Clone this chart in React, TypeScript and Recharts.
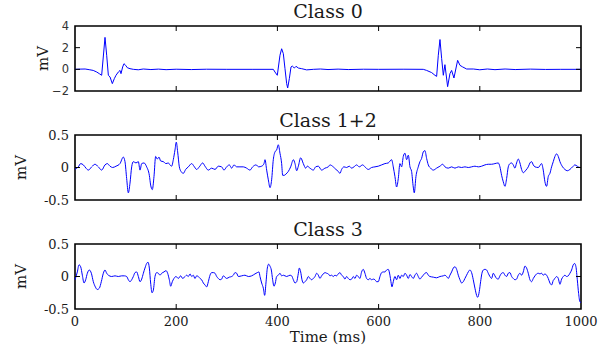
import React from 'react';
import { LineChart, Line, XAxis, YAxis, ReferenceArea } from 'recharts';

// ---------- data (time in ms, amplitude in mV) ----------
const timeTicks = [0, 200, 400, 600, 800, 1000];
const class0Ticks = [-2, 0, 2, 4];
const smallTicks = [-0.5, 0, 0.5];
const titles = ['Class 0', 'Class 1+2', 'Class 3'];

const class0: [number, number][] = [
  [0, 0], [10, 0.02], [20, 0.03], [28, -0.03], [36, -0.1], [43, -0.25], [48, -0.4], [52.7, -0.55],
  [59.3, 2.95], [62.6, 1.3], [65.9, -0.55], [69.2, -0.7], [73.8, -1.32], [77.7, -0.86], [81, -0.55],
  [85.6, -0.25], [89, -0.1], [90.9, -0.4], [94.2, 0.22], [96.8, 0.52], [100.1, 0.37], [103.4, 0.15],
  [108.7, 0.06], [115.3, 0], [125, -0.04], [135, 0.03], [150, -0.02], [165, 0.02], [180, -0.03],
  [200, 0.01], [230, -0.02], [260, 0.01], [300, 0], [350, 0], [391.9, 0], [395.2, -0.25], [399.8, -0.55],
  [405.1, 1.3], [408.4, 1.9], [411.7, 1.45], [415, 0.06], [418.3, -1.32], [420.3, -1.72], [423.6, -0.86],
  [426.9, 0.22], [429.5, 0.3], [433.5, 0.12], [436.8, 0.28], [441.4, 0.12], [448, 0.06], [457.8, -0.05],
  [471, 0], [485, 0.03], [500, -0.02], [520, 0.02], [540, -0.02], [570, 0.01], [600, 0], [650, 0.01],
  [688.3, 0], [694.9, -0.1], [704.8, -0.3], [711.4, -0.55], [714.7, -0.65], [718, 1.3], [721.3, 2.75],
  [724.6, 1.0], [727.9, -0.55], [731.1, 0.43], [736.4, -1.6], [741, -0.4], [744.3, -0.1], [748.9, -0.8],
  [756.2, 0.83], [760.8, 0.37], [766.1, 0.22], [774, 0.03], [787.2, 0.03], [800, -0.04], [815, 0.03],
  [830, -0.03], [850, 0.03], [870, -0.02], [900, 0.02], [930, -0.01], [960, 0], [1000, 0],
];

const class12: [number, number][] = [
  [0, -0.03], [6.6, 0.01], [11.2, 0.06], [16.5, 0.04], [21.7, -0.01], [26.4, -0.04], [33, 0.01], [39.5, 0.05],
  [46.1, 0.01], [52.7, -0.04], [59.3, 0.04], [63.9, 0.06], [69.2, 0.02], [74.4, 0], [81, 0.02], [88.9, 0.06],
  [95.5, 0.16], [98.8, 0.09], [102.1, -0.17], [105.4, -0.39], [108.7, -0.24], [112, 0.01], [115.3, 0.09],
  [120.5, 0.07], [125.2, 0.09], [128.5, -0.04], [131.8, 0.06], [136.4, 0.07], [141.6, 0.01], [146.9, -0.12],
  [149.5, -0.27], [152.8, -0.34], [156.1, -0.14], [159.4, 0.17], [162.7, 0.13], [166, 0.16], [169.3, 0.1],
  [174.6, 0.09], [179.8, 0.06], [184.4, 0.07], [187.7, 0.04], [191, 0.02], [194.3, 0.12], [197.6, 0.27],
  [200.2, 0.39], [202.9, 0.24], [206.2, 0.01], [209.5, -0.06], [214.1, -0.09], [218.7, -0.03], [224, 0.01],
  [230.6, 0.06], [235.1, 0.02], [240.4, -0.03], [245.7, 0.01], [252.3, 0.07], [256.9, 0.02], [263.5, -0.04],
  [270.1, -0.01], [276.7, -0.03], [283.2, 0.02], [289.8, 0.01], [294.4, -0.04], [299.7, 0.01], [305, 0.04],
  [309.6, -0.01], [314.2, 0.04], [319.5, 0.01], [326, 0.01], [332.6, 0.01], [339.2, -0.01], [345.8, -0.04],
  [351.1, 0.01], [357.7, 0.04], [363, 0.01], [368.9, 0.02], [373.5, 0.06], [375.5, 0.12], [378.8, -0.04],
  [382.1, -0.19], [385.4, -0.31], [388.6, -0.19], [391.9, 0.12], [395.2, 0.24], [398.5, 0.27], [401.8, 0.35],
  [405.1, 0.22], [408.4, 0.06], [410.4, -0.12], [413.7, -0.12], [417, -0.1], [421.6, -0.06], [426.2, 0.01],
  [431.5, 0.12], [434.8, 0.06], [438.1, -0.05], [441.4, 0.02], [446, 0.15], [451.2, 0.06], [455.8, -0.01],
  [459.1, 0.02], [464.4, -0.01], [471, -0.04], [475.6, 0.01], [480.9, 0.02], [487.4, -0.04], [494, -0.01],
  [500.6, 0.01], [503.9, 0.04], [510.4, 0.01], [515.7, -0.03], [520.3, -0.06], [523.6, -0.09], [526.9, -0.03],
  [531.5, 0.01], [536.8, 0], [542.1, 0.02], [546.7, -0.01], [551.3, 0.01], [556.6, 0.04], [561.8, 0.01],
  [568.4, 0.04], [573, 0.01], [579.6, -0.03], [586.2, 0], [592.8, 0.01], [599.4, 0.02], [606, 0.04],
  [612.5, 0.06], [619.1, 0.07], [625.7, 0.12], [629, 0.01], [632.3, -0.14], [635.6, -0.3], [638.9, -0.17],
  [642.2, 0.06], [645.5, 0.01], [648.8, 0.17], [652.1, 0.22], [655.4, 0.12], [658.7, 0.19], [662, 0.01],
  [665.2, -0.06], [668.5, -0.3], [670.5, -0.39], [673.8, -0.14], [678.4, 0.01], [681.7, 0.09], [685, 0.14],
  [688.3, 0.24], [691.6, 0.26], [694.9, 0.14], [698.2, 0.04], [702.8, -0.01], [708.1, -0.04], [714.6, -0.01],
  [721.2, 0.02], [726.5, 0.05], [731.1, 0.01], [737.7, -0.01], [744.3, 0.01], [750.9, -0.01], [757.5, 0.01],
  [764, 0], [770.6, 0.01], [777.2, 0], [783.8, 0.01], [790.4, 0.02], [797, 0.01], [803.6, 0.02], [810.2, 0.04],
  [816.7, 0.05], [823.3, 0.05], [829.9, 0.06], [836.5, 0.07], [839.8, 0.01], [843.1, -0.12], [846.4, -0.22],
  [849.7, -0.29], [853, -0.17], [856.3, 0.01], [859.6, 0.06], [862.9, 0.07], [866.1, 0.04], [869.4, -0.01],
  [872.7, 0.07], [876, 0.13], [879.3, 0.07], [882.6, -0.03], [885.9, -0.08], [891.2, -0.04], [895.8, 0.01],
  [899.1, 0.07], [902.4, 0.09], [905.7, 0.04], [909, 0.01], [915.6, 0], [922.1, 0.06], [925.4, -0.04],
  [928.7, -0.22], [932, -0.29], [935.3, -0.14], [938.6, -0.09], [941.9, 0.01], [945.2, 0.09], [948.5, 0.17],
  [951.8, 0.21], [955.1, 0.17], [958.4, 0.09], [963.6, 0.01], [968.2, -0.03], [972.9, -0.05], [978.1, -0.03],
  [983.4, 0.01], [988, 0.04], [992.6, 0.02], [997.9, 0], [1000, 0],
];

const class3: [number, number][] = [
  [0, -0.05], [4.6, 0.07], [7.9, 0.18], [11.2, 0.15], [14.5, 0.02], [17.8, -0.1], [21.1, -0.05], [24.4, 0.05],
  [28.3, 0.1], [32.3, 0.05], [36.2, -0.08], [40.2, -0.16], [44.1, -0.2], [48.1, -0.18], [52, -0.08], [56, 0.05],
  [59.3, 0.1], [62.6, 0.05], [65.9, 0.02], [72.5, 0], [79.1, 0.01], [85.6, 0], [92.2, 0.01], [97.5, 0.01],
  [102.1, 0], [105.4, -0.05], [108.7, -0.08], [112, -0.05], [115.3, 0], [118.6, 0.06], [121.9, 0.07],
  [125.2, 0], [128.5, -0.08], [131.8, -0.04], [135.1, 0.05], [138.3, 0.13], [141.6, 0.2], [144.3, 0.22],
  [146.9, 0.13], [149.5, -0.1], [152.2, -0.25], [154.8, -0.21], [158.1, 0], [161.4, 0.06], [164.7, 0.05],
  [168, 0.02], [171.3, 0.05], [175.9, 0.07], [179.8, 0.09], [183.1, 0.05], [186.4, -0.05], [189.1, -0.15],
  [192.3, -0.08], [195.6, -0.03], [199.6, 0], [204.2, -0.03], [208.8, 0.01], [212.8, -0.03], [217.4, 0],
  [220.7, 0.02], [224, 0], [227.3, 0.04], [230.6, 0], [233.8, 0.02], [237.1, -0.03], [240.4, 0.01], [243.7, 0],
  [247, -0.03], [250.3, -0.05], [253.6, -0.1], [256.9, -0.13], [260.2, -0.16], [263.5, -0.08], [266.8, 0.02],
  [270.1, 0.06], [273.4, 0.06], [276.7, 0.05], [280, 0], [283.2, -0.03], [286.5, -0.05], [289.8, -0.04],
  [293.1, 0.01], [296.4, -0.01], [299.7, -0.03], [305, -0.01], [309.6, 0], [312.9, 0.02], [316.2, 0.06],
  [319.5, 0.05], [322.8, 0], [329.4, 0.01], [335.9, 0.02], [342.5, 0], [349.1, 0.01], [355.7, 0.04],
  [360.3, 0.06], [363.6, 0.07], [365.6, 0], [368.9, -0.1], [372.2, -0.18], [374.8, -0.29], [377.4, -0.1],
  [380.1, 0.13], [382.7, 0.19], [385.3, 0.16], [388, 0.1], [390.6, -0.05], [393.2, -0.15], [395.9, -0.1],
  [398.5, 0], [401.8, 0.02], [405.1, 0.05], [408.4, 0.01], [411.7, 0.02], [418.3, 0], [424.9, 0.02],
  [428.2, 0.01], [431.5, -0.05], [434.8, -0.1], [438.1, -0.08], [441.4, 0.05], [443.3, 0.13], [446, 0.07],
  [448.6, -0.05], [451.2, -0.1], [454.5, -0.08], [457.8, -0.05], [461.1, 0], [464.4, -0.03], [467.7, -0.05],
  [471, -0.03], [474.3, 0], [477.6, 0.05], [480.9, 0.02], [484.1, -0.03], [487.4, 0.01], [490.7, 0.04],
  [494, 0.06], [497.3, 0.05], [500.6, 0.04], [503.9, 0.01], [507.2, 0.02], [510.4, 0], [513.7, 0.02],
  [517, 0.01], [520.3, 0.04], [523.6, 0.06], [526.9, 0.02], [530.2, 0], [533.5, -0.04], [536.8, 0],
  [540.1, -0.03], [543.4, -0.05], [546.7, -0.04], [550, 0], [553.3, -0.03], [556.6, 0.02], [559.8, 0],
  [563.1, -0.03], [566.4, 0.07], [569.7, 0.11], [573, 0.05], [576.3, -0.03], [579.6, -0.05], [582.9, -0.03],
  [586.2, -0.05], [589.5, -0.04], [592.8, -0.05], [596.1, -0.08], [599.4, -0.08], [602.7, 0], [606, 0.06],
  [609.3, 0.07], [612.5, 0.07], [615.8, 0.1], [619.1, 0.11], [622.4, 0.02], [624.4, -0.08], [626.4, -0.16],
  [629, -0.08], [632.3, 0], [635.6, -0.05], [638.9, 0.02], [642.2, -0.03], [645.5, 0.02], [648.8, 0],
  [652.1, 0.05], [655.4, 0.02], [658.7, -0.03], [662, 0.03], [665.2, 0], [668.5, -0.03], [671.8, 0.02],
  [675.1, 0.05], [678.4, 0], [681.7, -0.04], [685, -0.01], [688.3, 0.02], [691.6, 0.05], [694.9, 0.06],
  [698.2, 0.02], [701.5, 0], [708.1, -0.01], [714.6, -0.02], [721.2, 0], [727.8, 0.01], [731.1, 0.02],
  [734.4, 0], [737.7, -0.03], [741, 0.02], [744.3, 0.07], [747.6, 0.13], [750.9, 0.15], [754.2, 0.11],
  [757.5, 0.02], [760.8, -0.05], [764.1, -0.1], [767.3, -0.08], [770.6, -0.03], [773.9, 0.02], [777.2, 0.07],
  [780.5, 0.1], [783.8, 0.06], [787.1, -0.05], [790.4, -0.18], [793.7, -0.29], [795.7, -0.32], [799, -0.23],
  [801.6, -0.08], [804.2, 0.05], [806.9, 0.1], [810.2, 0.11], [813.5, 0.1], [816.7, 0.05], [820, 0],
  [823.3, -0.03], [826.6, 0.05], [829.9, 0.01], [833.2, -0.03], [836.5, -0.04], [839.8, 0.01], [843.1, 0.05],
  [846.4, 0.06], [849.7, 0.02], [853, 0], [856.3, 0.05], [859.6, 0.06], [862.9, 0], [866.1, -0.03],
  [869.4, -0.05], [872.7, -0.04], [876, 0.02], [879.3, 0.05], [882.6, 0.02], [885.9, 0.07], [889.2, 0.16],
  [892.5, 0.13], [895.8, 0.05], [899.1, -0.05], [902.4, -0.08], [905.7, -0.03], [909, 0.01], [912.3, 0.04],
  [915.6, 0.05], [918.9, 0.04], [922.1, 0.05], [925.4, 0.02], [928.7, 0.04], [932, 0.02], [935.3, -0.03],
  [938.6, -0.1], [941.9, -0.13], [945.2, -0.06], [948.5, -0.03], [951.8, 0], [955.1, -0.03], [958.4, -0.12],
  [961.7, -0.04], [965, 0], [968.3, 0.02], [971.5, 0], [974.8, 0.01], [978.1, 0.05], [981.4, 0.1],
  [984.7, 0.18], [987.4, 0.2], [990, 0.15], [992.7, -0.05], [995.3, -0.26], [997.9, -0.39], [1000, -0.4],
];

// ---------- helpers ----------
const toRows = (pairs: [number, number][]) => pairs.map(([t, v]) => ({ t, v }));

const PLOT_W = 506;
const PLOT_H = 65;
const SERIF = 'DejaVu Serif';
const SANS = 'DejaVu Sans';
const INK = '#1a1a1a';

const makeXTick = (showLabel: boolean) => (props: any) => {
  const { x, y, payload } = props;
  const v = payload.value;
  const inner = v !== 0 && v !== 1000;
  return (
    <g>
      {inner && <line x1={x} x2={x} y1={y} y2={y - 5} stroke="#000" strokeWidth={1} />}
      {inner && <line x1={x} x2={x} y1={y - PLOT_H} y2={y - PLOT_H + 5} stroke="#000" strokeWidth={1} />}
      {showLabel && (
        <text x={x} y={y + 17} textAnchor="middle" fontFamily={SERIF} fontSize={13} fill={INK}>
          {v}
        </text>
      )}
    </g>
  );
};

const makeYTick = (lo: number, hi: number, sans: boolean) => (props: any) => {
  const { x, y, payload } = props;
  const v = payload.value;
  const inner = v !== lo && v !== hi;
  const label = sans ? (v < 0 ? '\u2212' + Math.abs(v) : String(v)) : String(v);
  return (
    <g>
      {inner && <line x1={x} x2={x + 5} y1={y} y2={y} stroke="#000" strokeWidth={1} />}
      {inner && <line x1={x + PLOT_W} x2={x + PLOT_W - 5} y1={y} y2={y} stroke="#000" strokeWidth={1} />}
      <text
        x={x - 6}
        y={y}
        dy="0.36em"
        textAnchor="end"
        fontFamily={sans ? SANS : SERIF}
        fontSize={sans ? 11.5 : 13}
        fill={sans ? '#333' : INK}
      >
        {label}
      </text>
    </g>
  );
};

type PanelProps = {
  rows: { t: number; v: number }[];
  top: number;
  height: number;
  marginTop: number;
  xAxisHeight: number;
  yDomain: [number, number];
  yTicks: number[];
  showXLabels: boolean;
  sans: boolean;
  curve: 'linear' | 'monotone';
};

function Panel(p: PanelProps) {
  return (
    <div style={{ position: 'absolute', left: 0, top: p.top, width: 611, height: p.height }}>
      <LineChart
        width={611}
        height={p.height}
        data={p.rows}
        margin={{ top: p.marginTop, right: 30, left: 0, bottom: 0 }}
      >
        <XAxis
          dataKey="t"
          type="number"
          domain={[0, 1000]}
          ticks={timeTicks}
          height={p.xAxisHeight}
          axisLine={false}
          tickLine={false}
          tickSize={0}
          tickMargin={0}
          interval={0}
          tick={makeXTick(p.showXLabels)}
        />
        <YAxis
          type="number"
          domain={p.yDomain}
          ticks={p.yTicks}
          width={75}
          axisLine={false}
          tickLine={false}
          tickSize={0}
          tickMargin={0}
          interval={0}
          tick={makeYTick(p.yDomain[0], p.yDomain[1], p.sans)}
        />
        <Line
          dataKey="v"
          type={p.curve}
          stroke="#0000ff"
          strokeWidth={1}
          dot={false}
          activeDot={false}
          isAnimationActive={false}
        />
        <ReferenceArea
          x1={0}
          x2={1000}
          y1={p.yDomain[0]}
          y2={p.yDomain[1]}
          fill="none"
          stroke="#000"
          strokeWidth={1.6}
          ifOverflow="visible"
        />
      </LineChart>
    </div>
  );
}

export default function App() {
  return (
    <div style={{ position: 'absolute', left: 0, top: 0, width: 611, height: 356, background: '#fff' }}>
      <Panel
        rows={toRows(class0)}
        top={0}
        height={100}
        marginTop={26}
        xAxisHeight={9}
        yDomain={[-2, 4]}
        yTicks={class0Ticks}
        showXLabels={false}
        sans={true}
        curve="linear"
      />
      <Panel
        rows={toRows(class12)}
        top={100}
        height={110}
        marginTop={35}
        xAxisHeight={10}
        yDomain={[-0.5, 0.5]}
        yTicks={smallTicks}
        showXLabels={false}
        sans={false}
        curve="monotone"
      />
      <Panel
        rows={toRows(class3)}
        top={210}
        height={146}
        marginTop={34}
        xAxisHeight={47}
        yDomain={[-0.5, 0.5]}
        yTicks={smallTicks}
        showXLabels={true}
        sans={false}
        curve="monotone"
      />
      <svg
        width={611}
        height={356}
        style={{ position: 'absolute', left: 0, top: 0, pointerEvents: 'none' }}
      >
        <text x={328} y={18} textAnchor="middle" fontFamily={SERIF} fontSize={19} fill={INK}>{titles[0]}</text>
        <text x={328} y={127} textAnchor="middle" fontFamily={SERIF} fontSize={19} fill={INK}>{titles[1]}</text>
        <text x={328} y={236} textAnchor="middle" fontFamily={SERIF} fontSize={19} fill={INK}>{titles[2]}</text>
        <text transform="translate(43,58.5) rotate(-90)" textAnchor="middle" dy="0.36em" fontFamily={SERIF} fontSize={15} fill={INK}>mV</text>
        <text transform="translate(21,167.5) rotate(-90)" textAnchor="middle" dy="0.36em" fontFamily={SERIF} fontSize={15} fill={INK}>mV</text>
        <text transform="translate(21,276.5) rotate(-90)" textAnchor="middle" dy="0.36em" fontFamily={SERIF} fontSize={15} fill={INK}>mV</text>
        <text x={328} y={342} textAnchor="middle" fontFamily={SERIF} fontSize={15} fill={INK}>Time (ms)</text>
      </svg>
    </div>
  );
}
